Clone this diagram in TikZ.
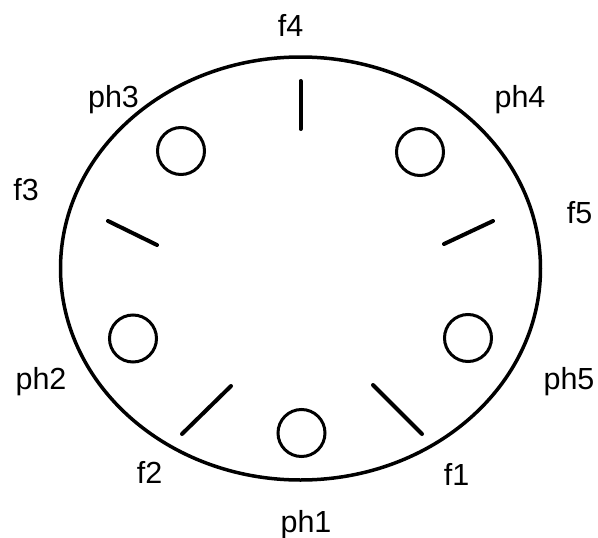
\documentclass[tikz,border=0pt]{standalone}
\usepackage{fontspec}
\setmainfont{Liberation Sans}
\usepackage{tikz}
\usetikzlibrary{positioning}

\begin{document}
\begin{tikzpicture}[
  x=1pt, y=-1pt,
  phil/.style={draw, circle, line width=3pt, minimum size=47pt, inner sep=0pt},
  fork/.style={line width=4pt, line cap=round},
  lbl/.style={anchor=base, inner sep=0pt, font=\fontsize{30.5}{36}\selectfont}
]
\useasboundingbox (0,0) rectangle (598,538);

% table
\draw[line width=3.5pt] (300.5,268.5) ellipse [x radius=240, y radius=211.5];

% philosophers
\node[phil] (ph1) at (301.5,433) {};
\node[phil] (ph2) at (133,338.5) {};
\node[phil] (ph3) at (181,151) {};
\node[phil] (ph4) at (420,152) {};
\node[phil] (ph5) at (468,338) {};

% forks
\draw[fork] (373,385) -- (422,434);
\draw[fork] (231,386) -- (182,434);
\draw[fork] (108,221) -- (157,245);
\draw[fork] (300.5,81) -- (300.5,129);
\draw[fork] (444,244) -- (493,221);

% labels
\node[lbl] (lph1) at (306,532) {ph1};
\node[lbl] (lph2) at (41,389) {ph2};
\node[lbl] (lph3) at (113.5,107) {ph3};
\node[lbl] (lph4) at (520,107) {ph4};
\node[lbl] (lph5) at (569,389) {ph5};
\node[lbl] (lf1) at (456.5,485) {f1};
\node[lbl] (lf2) at (149.5,483) {f2};
\node[lbl] (lf3) at (26,200) {f3};
\node[lbl] (lf4) at (290.5,37) {f4};
\node[lbl] (lf5) at (579.5,223) {f5};
\end{tikzpicture}
\end{document}
